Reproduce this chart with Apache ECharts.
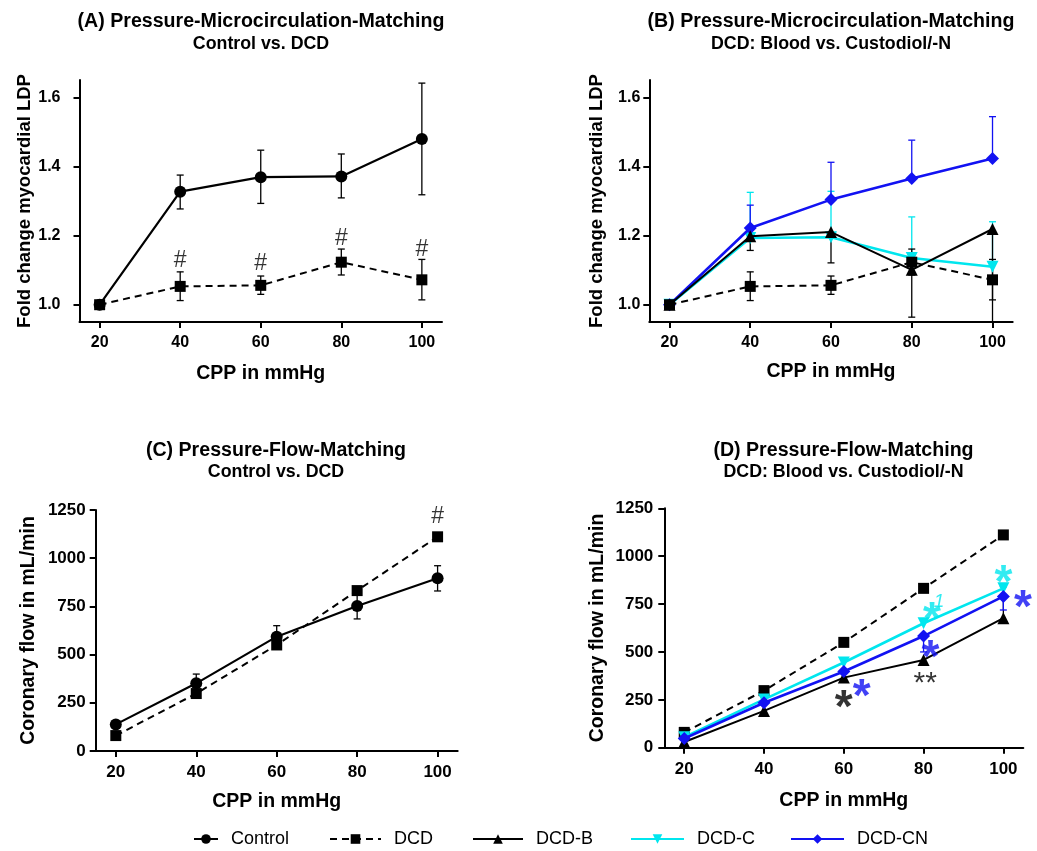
<!DOCTYPE html>
<html><head><meta charset="utf-8">
<script src="https://cdn.jsdelivr.net/npm/echarts@6/dist/echarts.min.js"></script>
<style>html,body{margin:0;padding:0;background:#fff}#c{width:1037px;height:851px}</style>
</head><body><div id="c"></div>
<script>
// ---------- data ----------
const cpp = [20, 40, 60, 80, 100];
const cppTicks = [20, 40, 60, 80, 100];
const ldpTicks = [1.0, 1.2, 1.4, 1.6];
const flowTicks = [0, 250, 500, 750, 1000, 1250];

// Panel A/B: fold change myocardial LDP
const ldpControl     = [1.0, 1.327, 1.369, 1.371, 1.479];
const ldpControlLow  = [1.0, 1.277, 1.293, 1.309, 1.318];
const ldpControlHigh = [1.0, 1.375, 1.447, 1.436, 1.641];
const ldpDCD     = [1.0, 1.053, 1.056, 1.123, 1.072];
const ldpDCDLow  = [1.0, 1.012, 1.030, 1.086, 1.014];
const ldpDCDHigh = [1.0, 1.095, 1.083, 1.161, 1.131];
const ldpDCDB    = [1.0, 1.198, 1.210, 1.101, 1.219];
const ldpDCDBLow = [1.0, 1.157, 1.121, 0.964, 0.920];
const ldpDCDC     = [1.0, 1.193, 1.195, 1.135, 1.110];
const ldpDCDCHigh = [1.0, 1.325, 1.328, 1.254, 1.240];
const ldpDCDCN     = [1.0, 1.222, 1.304, 1.365, 1.423];
const ldpDCDCNHigh = [1.0, 1.288, 1.412, 1.476, 1.544];

// Panel C/D: coronary flow in mL/min
const flowControl     = [138, 351, 593, 752, 896];
const flowControlLow  = [138, 303, 536, 685, 830];
const flowControlHigh = [138, 399, 650, 819, 961];
const flowDCD   = [80, 298, 550, 832, 1111];
const flowDCDB  = [30, 192, 366, 458, 676];
const flowDCDBHigh = [30, 192, 366, 458, 841];
const flowDCDC  = [55, 252, 445, 650, 832];
const flowDCDCN = [48, 235, 398, 583, 790];
const flowDCDCNLow = [48, 235, 398, 500, 719];

// significance annotations [x, y, text]
const hashA = [[40, 1.130, '#'], [60, 1.122, '#'], [80, 1.195, '#'], [100, 1.164, '#']];
const hashC = [[100, 1224, '#']];
const starsBlackD = [[60, 258, '*']];
const starsBlackSmallD = [[80.4, 371, '**']];
const starsBlueD = [[64.5, 318, '*'], [81.7, 519, '*'], [104.9, 780, '*']];
const starsCyanD = [[82.1, 719, '*'], [100, 911, '*']];
const supCyanD = [[83.9, 764, '1']];

// ---------- styling ----------
const FONT = 'Liberation Sans, Arial, sans-serif';
const BLACK = '#000000', CYAN = '#00e6ee', BLUE = '#1212f2';
const chart = echarts.init(document.getElementById('c'), null, {renderer: 'canvas'});

const grids = [
  {left: 79.5, top: 80, width: 362.5, height: 242},
  {left: 649.3, top: 80, width: 363.4, height: 242},
  {left: 95.7, top: 510, width: 362, height: 241},
  {left: 664.3, top: 508.3, width: 359, height: 239.4}
];

function xAxis(g, fs, gap) {
  return {
    type: 'value', gridIndex: g, min: 15, max: 105,
    axisLine: {show: true, onZero: false, lineStyle: {color: BLACK, width: 2}},
    axisTick: {show: true, length: 6, lineStyle: {color: BLACK, width: 2}, customValues: cppTicks},
    axisLabel: {customValues: cppTicks, margin: 13, fontSize: fs, fontWeight: 'bold', color: BLACK, fontFamily: FONT},
    splitLine: {show: false},
    name: 'CPP in mmHg', nameLocation: 'middle', nameGap: gap,
    nameTextStyle: {fontSize: 19.5, fontWeight: 'bold', color: BLACK, fontFamily: FONT}
  };
}
function yAxisLdp(g, margin, gap) {
  return {
    type: 'value', gridIndex: g, min: 0.95, max: 1.65,
    axisLine: {show: true, onZero: false, lineStyle: {color: BLACK, width: 2}},
    axisTick: {show: true, length: 6, lineStyle: {color: BLACK, width: 2}, customValues: ldpTicks},
    axisLabel: {customValues: ldpTicks, margin: margin, fontSize: 16, fontWeight: 'bold', color: BLACK, fontFamily: FONT,
      formatter: v => Number(v).toFixed(1)},
    splitLine: {show: false},
    name: 'Fold change myocardial LDP', nameLocation: 'middle', nameGap: gap,
    nameTextStyle: {fontSize: 18.5, fontWeight: 'bold', color: BLACK, fontFamily: FONT}
  };
}
function yAxisFlow(g, margin, gap) {
  return {
    type: 'value', gridIndex: g, min: 0, max: 1250, interval: 250,
    axisLine: {show: true, onZero: false, lineStyle: {color: BLACK, width: 2}},
    axisTick: {show: true, length: 6, lineStyle: {color: BLACK, width: 2}, customValues: flowTicks},
    axisLabel: {customValues: flowTicks, margin: margin, fontSize: 17, fontWeight: 'bold', color: BLACK, fontFamily: FONT,
      formatter: v => String(Math.round(v))},
    splitLine: {show: false},
    name: 'Coronary flow in mL/min', nameLocation: 'middle', nameGap: gap,
    nameTextStyle: {fontSize: 19.5, fontWeight: 'bold', color: BLACK, fontFamily: FONT}
  };
}

const styles = {
  'Control': {color: BLACK, symbol: 'circle', size: 12, width: 2.2, type: 'solid', rotate: 0},
  'DCD':     {color: BLACK, symbol: 'rect', size: 11, width: 2, type: [7, 5], rotate: 0},
  'DCD-B':   {color: BLACK, symbol: 'triangle', size: 12, width: 2, type: 'solid', rotate: 0},
  'DCD-C':   {color: CYAN, symbol: 'triangle', size: 12, width: 2.6, type: 'solid', rotate: 180},
  'DCD-CN':  {color: BLUE, symbol: 'diamond', size: 13, width: 2.6, type: 'solid', rotate: 0}
};

function lineS(name, g, ys, z) {
  const s = styles[name];
  return {
    name: name, type: 'line', xAxisIndex: g, yAxisIndex: g,
    data: cpp.map((x, i) => [x, ys[i]]),
    symbol: s.symbol, symbolSize: s.size, symbolRotate: s.rotate, showSymbol: true,
    itemStyle: {color: s.color}, lineStyle: {color: s.color, width: s.width, type: s.type},
    z: z || 3, silent: true, emphasis: {disabled: true}
  };
}

function errS(g, center, lo, hi, color, z) {
  return {
    type: 'custom', name: 'err', xAxisIndex: g, yAxisIndex: g, silent: true, z: z || 2,
    data: cpp.map((x, i) => [x, center[i], lo[i], hi[i]]),
    renderItem: function (params, api) {
      const x = api.value(0), c = api.value(1), lo = api.value(2), hi = api.value(3);
      if (lo === hi) return null;
      const cs = params.coordSys;
      const top = cs.y, bot = cs.y + cs.height;
      const pHi = api.coord([x, hi]), pLo = api.coord([x, lo]);
      const y1 = Math.max(pHi[1], top), y2 = Math.min(pLo[1], bot);
      const st = {stroke: color, lineWidth: 1.3};
      const ch = [{type: 'line', shape: {x1: pHi[0], y1: y1, x2: pHi[0], y2: y2}, style: st}];
      const w = 3.5;
      if (hi !== c && pHi[1] >= top) ch.push({type: 'line', shape: {x1: pHi[0] - w, y1: pHi[1], x2: pHi[0] + w, y2: pHi[1]}, style: st});
      if (lo !== c && pLo[1] <= bot) ch.push({type: 'line', shape: {x1: pLo[0] - w, y1: pLo[1], x2: pLo[0] + w, y2: pLo[1]}, style: st});
      return {type: 'group', children: ch};
    }
  };
}

function textS(g, pts, color, size, weight, style, offFrac) {
  return {
    type: 'scatter', xAxisIndex: g, yAxisIndex: g, silent: true, z: 10,
    data: pts, symbol: 'circle', symbolSize: 1, itemStyle: {color: 'rgba(0,0,0,0)'},
    emphasis: {disabled: true},
    label: {show: true, position: 'inside', formatter: p => p.data[2], color: color,
      fontSize: size, fontWeight: weight, fontStyle: style, fontFamily: FONT,
      offset: [0, size * offFrac]}
  };
}

const series = [
  // A
  errS(0, ldpControl, ldpControlLow, ldpControlHigh, BLACK),
  errS(0, ldpDCD, ldpDCDLow, ldpDCDHigh, BLACK),
  lineS('Control', 0, ldpControl),
  lineS('DCD', 0, ldpDCD),
  textS(0, hashA, BLACK, 23, 'normal', 'normal', 0.05),
  // B
  errS(1, ldpDCDC, ldpDCDC, ldpDCDCHigh, CYAN),
  errS(1, ldpDCDCN, ldpDCDCN, ldpDCDCNHigh, BLUE),
  errS(1, ldpDCDB, ldpDCDBLow, ldpDCDB, BLACK),
  errS(1, ldpDCD, ldpDCDLow, ldpDCDHigh, BLACK),
  lineS('DCD-C', 1, ldpDCDC, 3),
  lineS('DCD-CN', 1, ldpDCDCN, 4),
  lineS('DCD-B', 1, ldpDCDB, 5),
  lineS('DCD', 1, ldpDCD, 6),
  // C
  errS(2, flowControl, flowControlLow, flowControlHigh, BLACK),
  lineS('DCD', 2, flowDCD, 3),
  lineS('Control', 2, flowControl, 4),
  textS(2, hashC, BLACK, 23, 'normal', 'normal', 0.05),
  // D
  errS(3, flowDCDB, flowDCDB, flowDCDBHigh, BLACK),
  errS(3, flowDCDCN, flowDCDCNLow, flowDCDCN, BLUE),
  lineS('DCD', 3, flowDCD, 3),
  lineS('DCD-B', 3, flowDCDB, 4),
  lineS('DCD-C', 3, flowDCDC, 5),
  lineS('DCD-CN', 3, flowDCDCN, 6),
  textS(3, starsBlackD, BLACK, 46, 'bold', 'normal', 0.24),
  textS(3, starsBlackSmallD, BLACK, 30, 'normal', 'normal', 0.24),
  textS(3, starsBlueD, BLUE, 46, 'bold', 'normal', 0.24),
  textS(3, starsCyanD, CYAN, 46, 'bold', 'normal', 0.24),
  textS(3, supCyanD, CYAN, 19, 'normal', 'italic', 0.0)
];

function titleC(t, sub, cx, top, gap) {
  return {
    text: t, subtext: sub, left: cx, top: top, textAlign: 'center', itemGap: gap, padding: 0,
    textStyle: {fontSize: 19.6, fontWeight: 'bold', color: BLACK, fontFamily: FONT},
    subtextStyle: {fontSize: 17.8, fontWeight: 'bold', color: BLACK, fontFamily: FONT}
  };
}

function legendC(name, left, w) {
  return {
    data: [name], left: left, top: 830, itemWidth: w, itemHeight: 12, padding: 0,
    selectedMode: false,
    textStyle: {fontSize: 18, color: BLACK, fontFamily: FONT, padding: [0, 0, 0, 8]}
  };
}

chart.setOption({
  animation: false,
  backgroundColor: '#ffffff',
  title: [
    titleC('(A) Pressure-Microcirculation-Matching', 'Control vs. DCD', 261, 12, 3),
    titleC('(B) Pressure-Microcirculation-Matching', 'DCD: Blood vs. Custodiol/-N', 831, 12, 3),
    titleC('(C) Pressure-Flow-Matching', 'Control vs. DCD', 276, 440.5, 3),
    titleC('(D) Pressure-Flow-Matching', 'DCD: Blood vs. Custodiol/-N', 843.5, 440.5, 3)
  ],
  legend: [
    legendC('Control', 193, 24),
    legendC('DCD', 329, 51),
    legendC('DCD-B', 472, 50),
    legendC('DCD-C', 630, 53),
    legendC('DCD-CN', 790, 53)
  ],
  grid: grids,
  xAxis: [xAxis(0, 16, 41.5), xAxis(1, 16, 40), xAxis(2, 17, 41), xAxis(3, 17, 43)],
  yAxis: [yAxisLdp(0, 19, 41), yAxisLdp(1, 9, 43), yAxisFlow(2, 10, 57.5), yAxisFlow(3, 11, 56.5)],
  series: series
});
</script>
</body></html>
